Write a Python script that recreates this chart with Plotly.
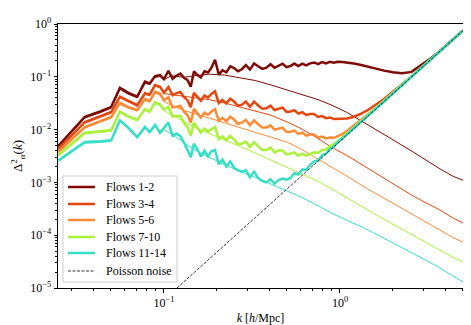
import plotly.graph_objects as go

# k bins [h/Mpc]
k_low = [0.0251, 0.0355, 0.0435, 0.0502, 0.0562, 0.0625, 0.0705, 0.0780, 0.0830, 0.0890, 0.0950, 0.1000]
k_mid = [0.106, 0.112, 0.118, 0.124, 0.130, 0.136, 0.142, 0.148, 0.155, 0.162,
         0.170, 0.178, 0.186, 0.195, 0.205, 0.215, 0.226, 0.238, 0.250, 0.263,
         0.277, 0.292, 0.308, 0.325, 0.343, 0.362, 0.382, 0.403, 0.425, 0.448,
         0.472, 0.497, 0.523, 0.551, 0.580, 0.611, 0.643, 0.677, 0.713, 0.751,
         0.791, 0.833, 0.877, 0.923, 0.972]
k_high = [1.03, 1.10, 1.20, 1.32, 1.45, 1.60, 1.78, 2.0, 2.25, 2.55, 2.9, 3.3, 3.75, 4.3, 5.0]
k_thick = k_low + k_mid + k_high

k_thin = k_low + [0.11, 0.13, 0.15, 0.18, 0.22, 0.27, 0.33, 0.4, 0.5, 0.6, 0.75,
                  0.9, 1.1, 1.35, 1.65, 2.0, 2.5, 3.0, 3.7, 4.4, 5.0]

# measured spectra (thick)
flows_1_2 = [0.0049, 0.0174, 0.022, 0.027, 0.062, 0.05, 0.042, 0.081, 0.075, 0.103, 0.108, 0.09,
             0.13, 0.092, 0.106, 0.115, 0.096, 0.087, 0.065, 0.126, 0.108, 0.097,
             0.127, 0.121, 0.148, 0.21, 0.110, 0.133, 0.121, 0.158, 0.147, 0.127,
             0.139, 0.166, 0.137, 0.179, 0.158, 0.141, 0.149, 0.173, 0.148, 0.163,
             0.177, 0.152, 0.160, 0.178, 0.160, 0.178, 0.165, 0.180, 0.187, 0.174,
             0.190, 0.180, 0.192, 0.184, 0.193,
             0.19, 0.186, 0.178, 0.167, 0.154, 0.142, 0.131, 0.122, 0.117, 0.124,
             0.168, 0.228, 0.322, 0.48, 0.753]
flows_3_4 = [0.0043, 0.0139, 0.018, 0.0216, 0.042, 0.035, 0.029, 0.049, 0.046, 0.07, 0.065, 0.05,
             0.064, 0.0448, 0.0492, 0.0516, 0.0410, 0.0361, 0.0265, 0.0496, 0.0413, 0.0352,
             0.0442, 0.0402, 0.0473, 0.053, 0.0319, 0.0365, 0.0314, 0.0385, 0.0341, 0.0283,
             0.0297, 0.0340, 0.027, 0.0338, 0.0286, 0.0249, 0.0254, 0.0284, 0.0235, 0.0251,
             0.0261, 0.0216, 0.0219, 0.0233, 0.0201, 0.0213, 0.0189, 0.0197, 0.0197, 0.0174,
             0.018, 0.0165, 0.017, 0.0158, 0.0159,
             0.0156, 0.0162, 0.0175, 0.020, 0.0238, 0.0295, 0.038, 0.052, 0.0715, 0.102,
             0.149, 0.218, 0.318, 0.479, 0.753]
flows_5_6 = [0.0038, 0.0112, 0.0145, 0.0174, 0.032, 0.027, 0.0236, 0.038, 0.035, 0.052, 0.048, 0.036,
             0.041, 0.0262, 0.0272, 0.0281, 0.0219, 0.0189, 0.0135, 0.0248, 0.0203, 0.017,
             0.021, 0.019, 0.022, 0.0244, 0.0147, 0.0167, 0.0144, 0.0176, 0.0156, 0.0129,
             0.0135, 0.0153, 0.0121, 0.015, 0.0126, 0.0109, 0.0109, 0.012, 0.010, 0.0105,
             0.0109, 0.009, 0.0091, 0.0096, 0.0083, 0.0088, 0.0077, 0.0081, 0.0081, 0.007,
             0.0074, 0.0068, 0.0071, 0.007, 0.0076,
             0.0082, 0.0095, 0.0119, 0.0152, 0.0196, 0.0257, 0.0349, 0.049, 0.0694, 0.1003,
             0.1472, 0.2172, 0.3172, 0.478, 0.752]
flows_7_10 = [0.0033, 0.0087, 0.0093, 0.0098, 0.022, 0.018, 0.0152, 0.0245, 0.022, 0.033, 0.03, 0.024,
              0.027, 0.0177, 0.0183, 0.018, 0.0135, 0.0111, 0.0077, 0.0135, 0.0107, 0.0087,
              0.0105, 0.0091, 0.0103, 0.0113, 0.0066, 0.0074, 0.0063, 0.0076, 0.0065, 0.0053,
              0.0054, 0.0059, 0.0047, 0.0058, 0.0048, 0.0041, 0.0041, 0.0046, 0.0037, 0.004,
              0.004, 0.0034, 0.0035, 0.0037, 0.0032, 0.0035, 0.0032, 0.0035, 0.0037, 0.0036,
              0.0041, 0.0042, 0.0049, 0.0053, 0.0062,
              0.0071, 0.0085, 0.011, 0.0144, 0.0189, 0.0251, 0.0344, 0.0487, 0.069, 0.1,
              0.147, 0.217, 0.317, 0.478, 0.752]
flows_11_14 = [0.0026, 0.0058, 0.0060, 0.0063, 0.015, 0.011, 0.0072, 0.0112, 0.009, 0.0122, 0.0087, 0.0105,
               0.0136, 0.0076, 0.0084, 0.0075, 0.0057, 0.0041, 0.003, 0.0054, 0.0042, 0.0031,
               0.004, 0.0031, 0.0039, 0.0041, 0.0022, 0.0027, 0.002, 0.0025, 0.0019, 0.0017,
               0.0016, 0.0017, 0.00125, 0.0016, 0.0012, 0.00106, 0.001, 0.00115, 0.00095, 0.00111,
               0.00118, 0.00113, 0.00121, 0.00149, 0.00141, 0.00176, 0.00174, 0.00215, 0.0025, 0.00259,
               0.00325, 0.00349, 0.0043, 0.0048, 0.0058,
               0.0068, 0.0082, 0.0106, 0.014, 0.0185, 0.0248, 0.0341, 0.0484, 0.0688, 0.0998,
               0.147, 0.217, 0.317, 0.478, 0.752]

# smooth spectra (thin)
thin_1_2 = [0.0047, 0.0165, 0.021, 0.0255, 0.058, 0.047, 0.04, 0.076, 0.071, 0.097, 0.101, 0.088,
            0.105, 0.098, 0.105, 0.112, 0.108, 0.097, 0.085, 0.071, 0.056, 0.046, 0.037,
            0.029, 0.021, 0.014, 0.0095, 0.0064, 0.0041, 0.0028, 0.0018, 0.0013, 0.0011]
thin_3_4 = [0.0041, 0.0132, 0.017, 0.0205, 0.04, 0.033, 0.0275, 0.046, 0.044, 0.066, 0.062, 0.048,
            0.046, 0.043, 0.041, 0.037, 0.032, 0.027, 0.023, 0.019, 0.014, 0.0105, 0.0068,
            0.0046, 0.0032, 0.0021, 0.0014, 0.00095, 0.0006, 0.00043, 0.0003, 0.00021, 0.00017]
thin_5_6 = [0.0036, 0.0106, 0.0138, 0.0165, 0.03, 0.0255, 0.0224, 0.036, 0.033, 0.049, 0.045, 0.034,
            0.029, 0.023, 0.02, 0.0165, 0.0135, 0.011, 0.0088, 0.0072, 0.0058, 0.0043, 0.0028,
            0.0019, 0.0013, 0.00085, 0.00058, 0.0004, 0.00026, 0.00018, 0.000125, 0.00009, 0.000074]
thin_7_10 = [0.0031, 0.0083, 0.0088, 0.0093, 0.021, 0.017, 0.0145, 0.023, 0.021, 0.031, 0.028, 0.023,
             0.019, 0.014, 0.011, 0.0085, 0.0065, 0.0048, 0.0036, 0.0027, 0.0019, 0.00145, 0.00105,
             0.00075, 0.0005, 0.00034, 0.00023, 0.00016, 0.000105, 0.000075, 0.000052, 0.000038, 0.000031]
thin_11_14 = [0.0025, 0.0055, 0.0057, 0.006, 0.0142, 0.0105, 0.0069, 0.0106, 0.0086, 0.0116, 0.0083, 0.0100,
              0.0082, 0.0056, 0.0041, 0.003, 0.0022, 0.0016, 0.00125, 0.00095, 0.0007, 0.00053, 0.00036,
              0.00026, 0.00019, 0.00014, 0.0001, 0.000072, 0.000048, 0.000035, 0.000024, 0.000017, 0.000013]

k_poisson = [0.1186, 5.0]
poisson = [1e-5, 0.75]

names = ["Flows 1-2", "Flows 3-4", "Flows 5-6", "Flows 7-10", "Flows 11-14"]
colors = ["#7d0a04", "#e4460f", "#fd8a35", "#aaf23a", "#35dfc6"]
thick = [flows_1_2, flows_3_4, flows_5_6, flows_7_10, flows_11_14]
thin = [thin_1_2, thin_3_4, thin_5_6, thin_7_10, thin_11_14]

serif = "Liberation Serif"

fig = go.Figure()
for name, c, yt, yn in zip(names, colors, thick, thin):
    fig.add_trace(go.Scatter(x=k_thick, y=yt, mode="lines", name=name, showlegend=False,
                             line=dict(color=c, width=2.5)))
    fig.add_trace(go.Scatter(x=k_thin, y=yn, mode="lines", showlegend=False,
                             line=dict(color=c, width=1)))
fig.add_trace(go.Scatter(x=k_poisson, y=poisson, mode="lines", name="Poisson noise",
                         showlegend=False,
                         line=dict(color="black", width=0.8, dash="3px,1.5px")))

# legend drawn by hand (matplotlib-style box), in plot-area paper coordinates
fig.add_shape(type="rect", xref="paper", yref="paper", x0=0.0123, x1=0.2938, y0=0.0227, y1=0.4242,
              fillcolor="rgba(255,255,255,0.8)", line=dict(color="#cccccc", width=1), layer="above")
row_y = [0.3826, 0.3182, 0.2576, 0.1932, 0.1326, 0.0644]
for name, c, yy in zip(names, colors, row_y):
    fig.add_shape(type="line", xref="paper", yref="paper", x0=0.0247, x1=0.0914, y0=yy, y1=yy,
                  line=dict(color=c, width=2.5), layer="above")
    fig.add_annotation(xref="paper", yref="paper", x=0.1136, y=yy, text=name, showarrow=False,
                       xanchor="left", yanchor="middle", font=dict(family=serif, size=12, color="black"))
fig.add_shape(type="line", xref="paper", yref="paper", x0=0.0247, x1=0.0914, y0=row_y[5], y1=row_y[5],
              line=dict(color="black", width=0.8, dash="3px,1.5px"), layer="above")
fig.add_annotation(xref="paper", yref="paper", x=0.1136, y=row_y[5], text="Poisson noise", showarrow=False,
                   xanchor="left", yanchor="middle", font=dict(family=serif, size=12, color="black"))

x_minor = [0.03, 0.04, 0.05, 0.06, 0.07, 0.08, 0.09,
           0.2, 0.3, 0.4, 0.5, 0.6, 0.7, 0.8, 0.9, 2, 3, 4, 5]
y_minor = [m * 10.0 ** e for e in range(-5, 0) for m in range(2, 10)]

axis_common = dict(
    type="log", showgrid=False, zeroline=False, automargin=False,
    showline=True, linecolor="black", linewidth=1, mirror=True,
    ticks="outside", ticklen=3.5, tickwidth=0.8, tickcolor="black",
    tickfont=dict(family=serif, size=12, color="black"),
)

fig.update_xaxes(
    **axis_common,
    range=[-1.602, 0.699],
    tickvals=[0.1, 1],
    ticktext=["10<sup>−1</sup>", "10<sup>0</sup>"],
    minor=dict(tickmode="array", tickvals=x_minor, ticks="outside", ticklen=2,
               tickwidth=0.6, tickcolor="black", showgrid=False),
    title=dict(text="<i>k</i> [<i>h</i>/Mpc]", font=dict(family=serif, size=12, color="black"),
               standoff=4),
)
fig.update_yaxes(
    **axis_common,
    range=[-5, 0],
    tickvals=[1e-5, 1e-4, 1e-3, 1e-2, 1e-1, 1],
    ticktext=["10<sup>−5</sup>", "10<sup>−4</sup>", "10<sup>−3</sup>",
              "10<sup>−2</sup>", "10<sup>−1</sup>", "10<sup>0</sup>"],
    minor=dict(tickmode="array", tickvals=y_minor, ticks="outside", ticklen=2,
               tickwidth=0.6, tickcolor="black", showgrid=False),
    title=dict(text="Δ<sup>2</sup><sub><i>α</i></sub>(<i>k</i>)",
               font=dict(family=serif, size=13, color="black"), standoff=4),
)

# the page body adds an 8px offset, so the figure is sized to sit in the 471x325 window
fig.update_layout(
    width=463, height=317,
    margin=dict(l=50, r=8, t=16, b=37),
    paper_bgcolor="white", plot_bgcolor="white",
    font=dict(family=serif, size=12, color="black"),
    showlegend=False,
)

fig.write_html("out.html")
